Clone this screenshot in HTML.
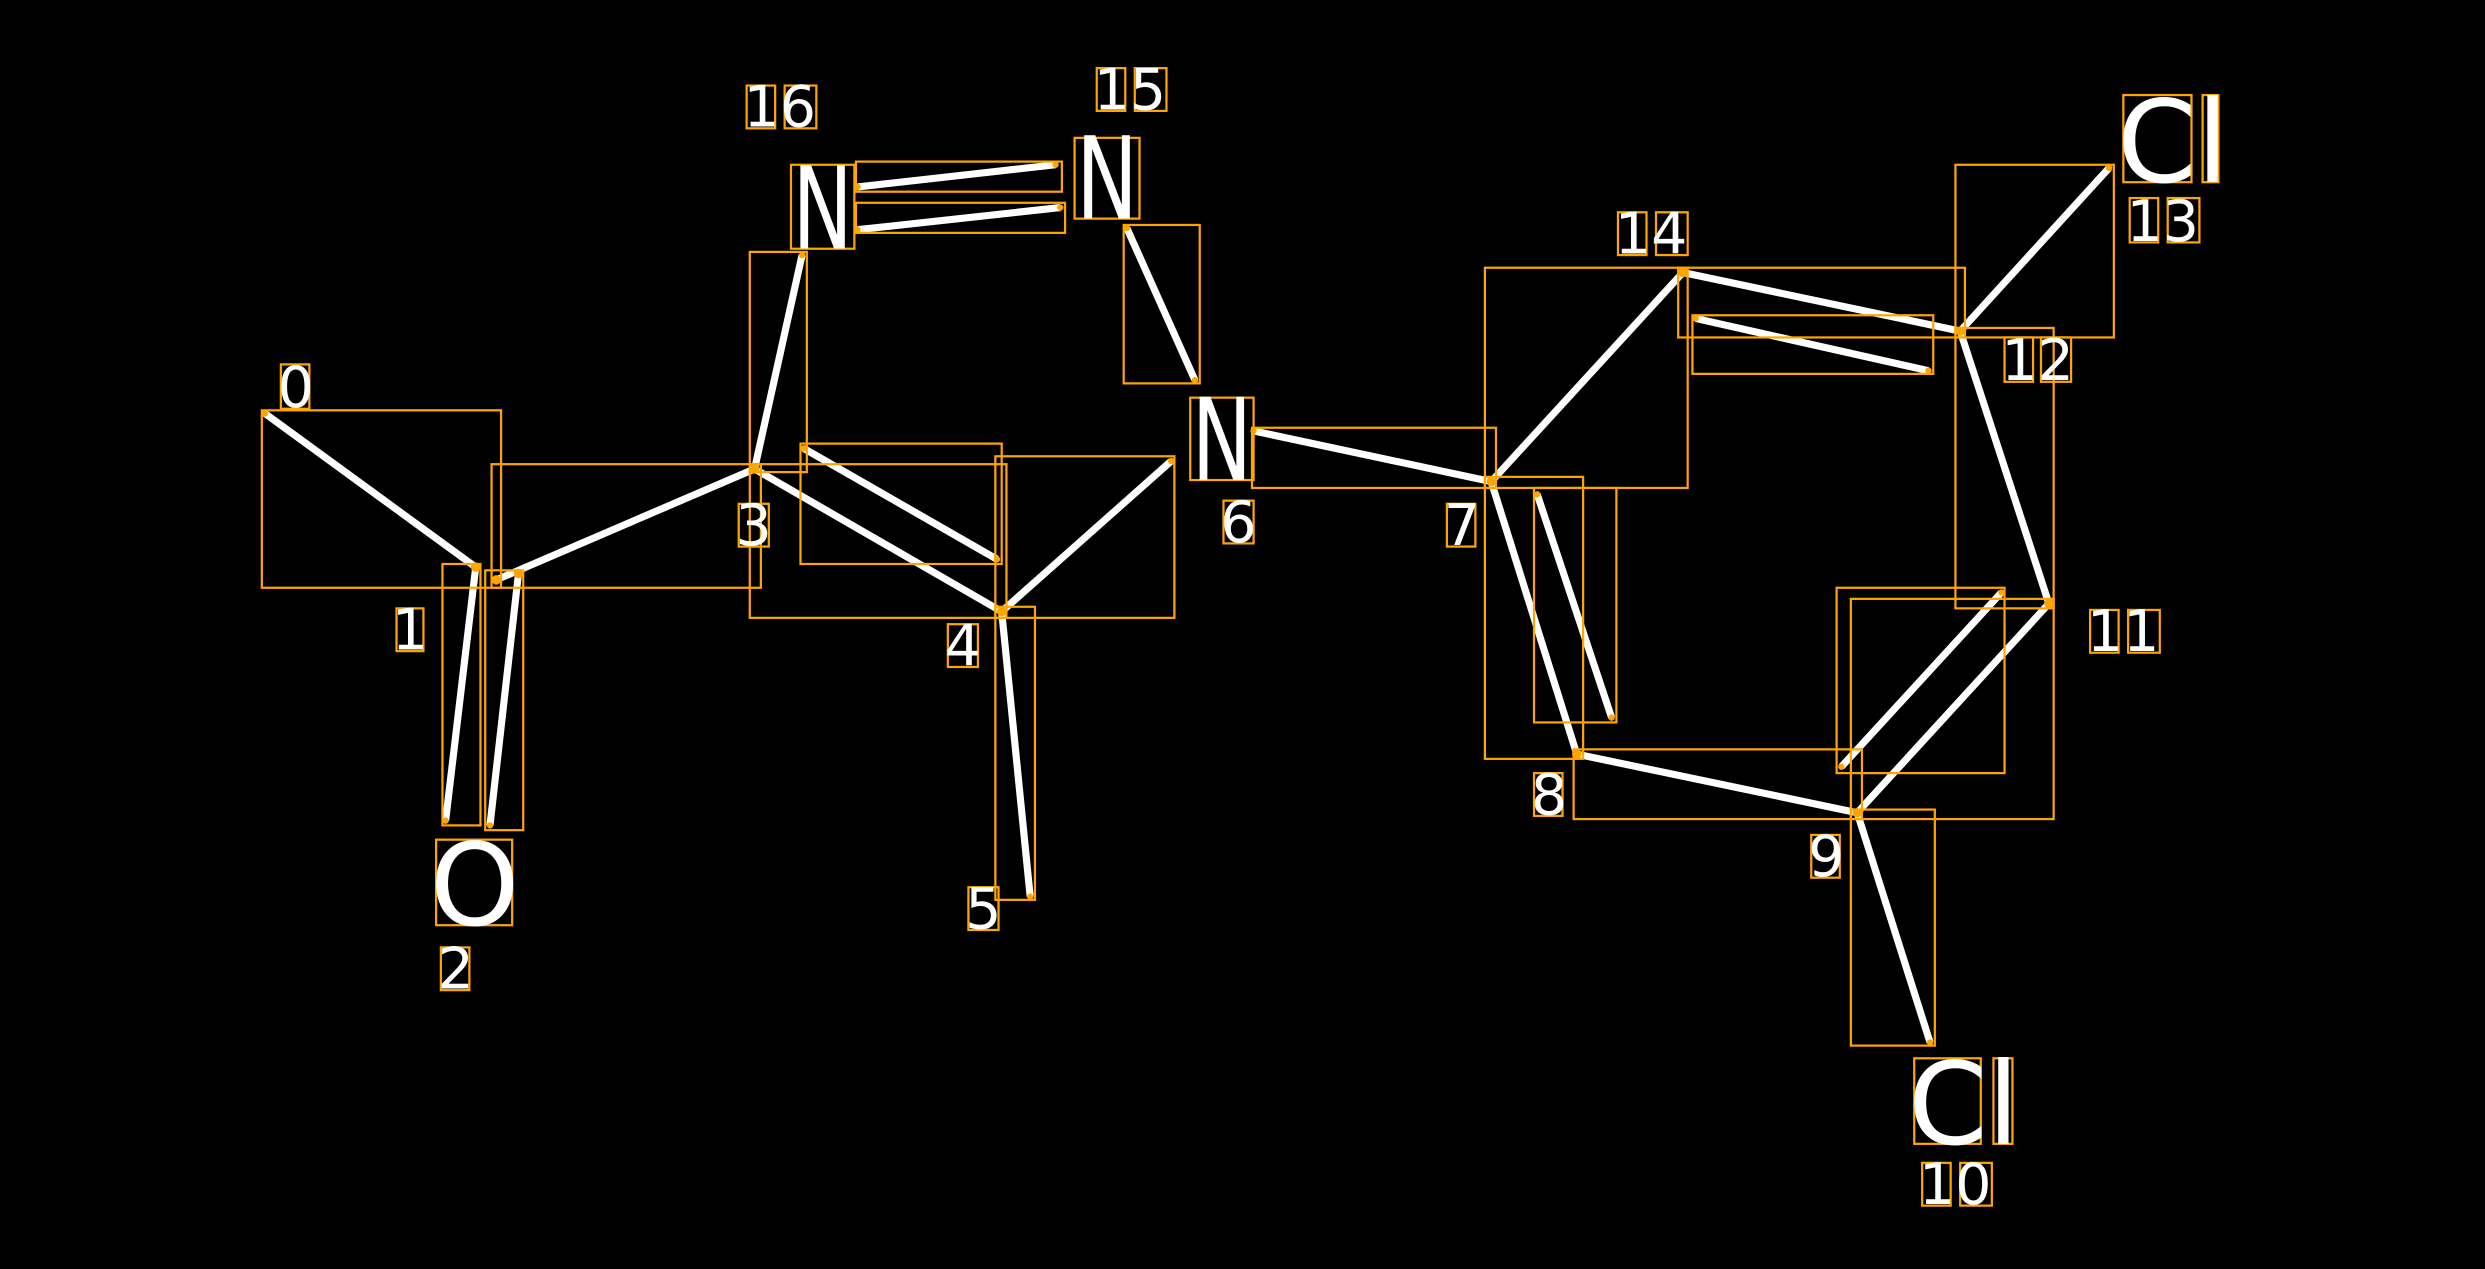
<!DOCTYPE html>
<html><head><meta charset="utf-8"><style>html,body{margin:0;padding:0;background:#000;overflow:hidden}svg{display:block}</style></head>
<body>
<svg width="2485" height="1269" viewBox="0 0 1568 801" xmlns="http://www.w3.org/2000/svg">
<rect width="1568" height="801" fill="#000"/>
<g stroke="#fff" stroke-width="4.5" stroke-linecap="butt">
<line x1="167" y1="261" x2="300" y2="358"/>
<line x1="300" y1="358" x2="281" y2="518"/>
<line x1="327" y1="362" x2="309" y2="521"/>
<line x1="313" y1="366" x2="476" y2="296"/>
<line x1="476" y1="296" x2="506" y2="161"/>
<line x1="541" y1="118" x2="666" y2="104"/>
<line x1="541" y1="145" x2="669" y2="131"/>
<line x1="711" y1="144" x2="754" y2="240"/>
<line x1="476" y1="296" x2="632" y2="386"/>
<line x1="507" y1="283" x2="629" y2="353"/>
<line x1="632" y1="386" x2="650" y2="566"/>
<line x1="632" y1="386" x2="739" y2="291"/>
<line x1="791" y1="272" x2="941" y2="304"/>
<line x1="941" y1="304" x2="1062" y2="172"/>
<line x1="1062" y1="172" x2="1237" y2="209"/>
<line x1="1070" y1="201" x2="1217" y2="234"/>
<line x1="1237" y1="209" x2="1331" y2="106"/>
<line x1="1237" y1="209" x2="1293" y2="381"/>
<line x1="1293" y1="381" x2="1172" y2="513"/>
<line x1="1263" y1="374" x2="1162" y2="484"/>
<line x1="1172" y1="513" x2="1218" y2="658"/>
<line x1="1172" y1="513" x2="995" y2="476"/>
<line x1="995" y1="476" x2="941" y2="304"/>
<line x1="970" y1="312" x2="1017" y2="453"/>
</g>
<g fill="none" stroke="#ffa500" stroke-width="1.4">
<rect x="165" y="259" width="151" height="112"/>
<rect x="310" y="293" width="170" height="78"/>
<rect x="279" y="356" width="24" height="165"/>
<rect x="306" y="360" width="24" height="164"/>
<rect x="473" y="159" width="36" height="139"/>
<rect x="540" y="102" width="130" height="19"/>
<rect x="540" y="128" width="132" height="19"/>
<rect x="709" y="142" width="48" height="100"/>
<rect x="473" y="293" width="162" height="97"/>
<rect x="505" y="280" width="127" height="76"/>
<rect x="628" y="288" width="113" height="102"/>
<rect x="628" y="383" width="25" height="185"/>
<rect x="790" y="270" width="154" height="38"/>
<rect x="937" y="169" width="128" height="139"/>
<rect x="1059" y="169" width="181" height="44"/>
<rect x="1068" y="199" width="152" height="37"/>
<rect x="1234" y="104" width="100" height="109"/>
<rect x="1234" y="207" width="62" height="177"/>
<rect x="1168" y="378" width="128" height="139"/>
<rect x="1159" y="371" width="106" height="117"/>
<rect x="1168" y="511" width="53" height="149"/>
<rect x="993" y="473" width="182" height="44"/>
<rect x="937" y="301" width="62" height="178"/>
<rect x="968" y="308" width="52" height="148"/>
<rect x="499" y="104" width="40" height="53"/>
<rect x="678" y="87" width="41" height="51"/>
<rect x="751" y="251" width="40" height="52"/>
<rect x="275" y="530" width="48" height="54"/>
<rect x="1340" y="60" width="43" height="55"/>
<rect x="1390" y="60" width="10" height="55"/>
<rect x="1208" y="668" width="42" height="54"/>
<rect x="1258" y="668" width="12" height="54"/>
<rect x="177" y="230" width="18" height="28"/>
<rect x="250" y="384" width="17" height="27"/>
<rect x="278" y="598" width="18" height="27"/>
<rect x="466" y="318" width="19" height="27"/>
<rect x="598" y="394" width="19" height="27"/>
<rect x="611" y="560" width="19" height="27"/>
<rect x="772" y="316" width="19" height="27"/>
<rect x="913" y="318" width="18" height="27"/>
<rect x="968" y="488" width="18" height="27"/>
<rect x="1143" y="527" width="18" height="27"/>
<rect x="471" y="54" width="18" height="27"/><rect x="495" y="54" width="20" height="27"/>
<rect x="692" y="43" width="18" height="27"/><rect x="716" y="43" width="20" height="27"/>
<rect x="1021" y="134" width="18" height="27"/><rect x="1045" y="134" width="20" height="27"/>
<rect x="1265" y="213" width="18" height="28"/><rect x="1288" y="213" width="19" height="28"/>
<rect x="1319" y="385" width="18" height="27"/><rect x="1343" y="385" width="20" height="27"/>
<rect x="1344" y="125" width="18" height="28"/><rect x="1368" y="125" width="20" height="28"/>
<rect x="1213" y="734" width="18" height="27"/><rect x="1237" y="734" width="20" height="27"/>
</g>
<g fill="#ffa500">
<circle cx="300" cy="358" r="3"/><circle cx="313" cy="366" r="3"/><circle cx="327" cy="362" r="3"/>
<circle cx="476" cy="296" r="3"/><circle cx="632" cy="386" r="3"/><circle cx="941" cy="304" r="3"/>
<circle cx="1062" cy="172" r="3"/><circle cx="1237" cy="209" r="3"/><circle cx="1293" cy="381" r="3"/>
<circle cx="1172" cy="513" r="3"/><circle cx="995" cy="476" r="3"/>
<circle cx="167" cy="261" r="2"/><circle cx="281" cy="518" r="2"/><circle cx="309" cy="521" r="2"/>
<circle cx="506" cy="161" r="2"/><circle cx="541" cy="118" r="2"/><circle cx="666" cy="104" r="2"/>
<circle cx="541" cy="145" r="2"/><circle cx="669" cy="131" r="2"/><circle cx="711" cy="144" r="2"/>
<circle cx="754" cy="240" r="2"/><circle cx="507" cy="283" r="2"/><circle cx="629" cy="353" r="2"/>
<circle cx="650" cy="566" r="2"/><circle cx="739" cy="291" r="2"/><circle cx="791" cy="272" r="2"/>
<circle cx="1070" cy="201" r="2"/><circle cx="1217" cy="234" r="2"/><circle cx="1331" cy="106" r="2"/>
<circle cx="1263" cy="374" r="2"/><circle cx="1162" cy="484" r="2"/><circle cx="1218" cy="658" r="2"/>
<circle cx="970" cy="312" r="2"/><circle cx="1017" cy="453" r="2"/>
</g>
<g fill="#fff" font-family="DejaVu Sans, Liberation Sans, sans-serif">
<g font-size="72">
<text x="500" y="157" textLength="38" lengthAdjust="spacingAndGlyphs">N</text>
<text x="679" y="138" textLength="39" lengthAdjust="spacingAndGlyphs">N</text>
<text x="752" y="303" textLength="38" lengthAdjust="spacingAndGlyphs">N</text>
<text x="271" y="584">O</text>
<text x="1336" y="115">Cl</text>
<text x="1204" y="722">Cl</text>
</g>
<g font-size="36">
<text x="175" y="257">0</text>
<text x="247" y="410">1</text>
<text x="276" y="624">2</text>
<text x="464" y="344">3</text>
<text x="596" y="420">4</text>
<text x="609" y="586">5</text>
<text x="770" y="342">6</text>
<text x="911" y="344">7</text>
<text x="966" y="514">8</text>
<text x="1141" y="553">9</text>
<text x="469" y="80">16</text>
<text x="690" y="69">15</text>
<text x="1019" y="160">14</text>
<text x="1263" y="240">12</text>
<text x="1317" y="411">11</text>
<text x="1342" y="152">13</text>
<text x="1211" y="760">10</text>
</g>
</g>
</svg>
</body></html>
